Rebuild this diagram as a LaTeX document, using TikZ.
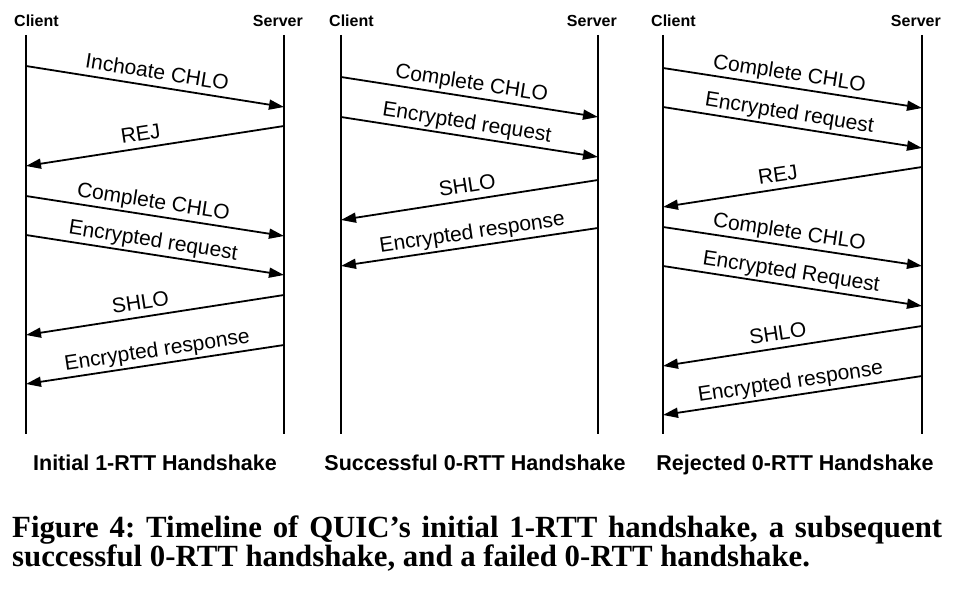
\documentclass[tikz,border=0pt]{standalone}
\usepackage{fontspec}
\setmainfont{Liberation Serif}
\setsansfont{Liberation Sans}
\usetikzlibrary{arrows.meta,positioning}

\begin{document}
\frenchspacing
\begin{tikzpicture}[x=1pt,y=-1pt,
  lifeline/.style={line width=1.8pt},
  msg/.style={line width=1.8pt,-{Triangle[length=15pt,width=10pt]}},
  lbl/.style={sloped,anchor=south,inner xsep=0pt,inner ysep=7.5pt,outer sep=0pt,
    text depth=0pt,font=\sffamily\fontsize{21}{24}\selectfont},
  hdr/.style={inner sep=0pt,font=\sffamily\bfseries\fontsize{16}{19}\selectfont},
  ptitle/.style={anchor=base,inner sep=0pt,font=\sffamily\bfseries\fontsize{21.5}{25}\selectfont},
  figcap/.style={anchor=base west,inner sep=0pt,font=\rmfamily\bfseries\fontsize{30.8}{30}\selectfont}]
\useasboundingbox (0,0) rectangle (959,591);
\foreach \k/\xc/\xs in {1/26/284,2/341/598,3/663/922}{
  \coordinate (ct\k) at (\xc,35);
  \coordinate (cb\k) at (\xc,434);
  \coordinate (st\k) at (\xs,35);
  \coordinate (sb\k) at (\xs,434);
  \draw[lifeline] (ct\k) -- (cb\k);
  \draw[lifeline] (st\k) -- (sb\k);
  \node[hdr,anchor=base west] (client\k) at (\xc-12,27) {Client};
  \node[hdr,anchor=base east] (server\k) at (\xs+19,27) {Server};
}
\foreach \k/\yc/\ys/\ma/\mb/\p/\txt [count=\i] in {
  1/66/107/c/s/.5/Inchoate CHLO,
  1/166/126/s/c/.453/REJ,
  1/196/236/c/s/.486/Complete CHLO,
  1/235/275/c/s/.485/Encrypted request,
  1/335/295/s/c/.452/SHLO,
  1/384/345/s/c/.516/Encrypted response,
  2/77/117/c/s/.5/Complete CHLO,
  2/117/157/c/s/.482/Encrypted request,
  2/220/180/s/c/.5/SHLO,
  2/266/228/s/c/.518/Encrypted response,
  3/68/108/c/s/.48/Complete CHLO,
  3/107/148/c/s/.48/Encrypted request,
  3/207/167/s/c/.452/REJ,
  3/227/266/c/s/.48/Complete CHLO,
  3/266/306/c/s/.487/Encrypted Request,
  3/366/326/s/c/.452/SHLO,
  3/415/376/s/c/.5/Encrypted response}{
  \coordinate (c\i) at (ct\k |- 0,\yc);
  \coordinate (s\i) at (st\k |- 0,\ys);
  \draw[msg] (\ma\i) -- (\mb\i);
  \path (c\i) -- (s\i) node[lbl,pos=\p] (lbl\i) {\txt};
}
\node[ptitle] (title1) at (155,470) {Initial 1-RTT Handshake};
\node[ptitle] (title2) at (475,470) {Successful 0-RTT Handshake};
\node[ptitle] (title3) at (795,470) {Rejected 0-RTT Handshake};
\node[figcap] (cap1) at (12,537)
  {\hbox to 930pt{Figure 4: Timeline of QUIC's initial 1-RTT handshake, a subsequent}};
\node[figcap] (cap2) at (12,566)
  {successful 0-RTT handshake, and a failed 0-RTT handshake.};
\end{tikzpicture}
\end{document}
